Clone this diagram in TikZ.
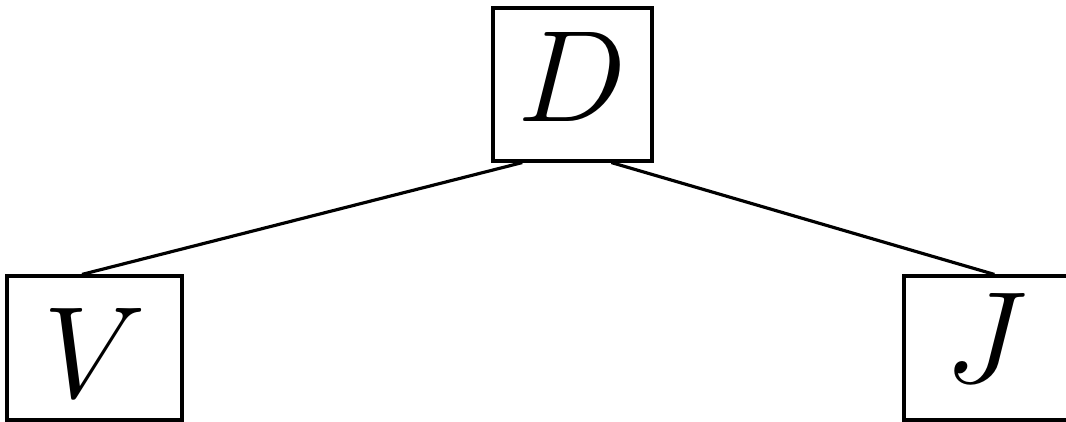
\documentclass[tikz,border=0pt]{standalone}
\usepackage{graphicx}
\usepackage{tikz}
\usetikzlibrary{positioning, calc}

\newcommand{\bigletter}[1]{\scalebox{1.49}{$#1$}}

\begin{document}
\begin{tikzpicture}[
  letterbox/.style={draw, line width=0.9pt, inner sep=0pt, text depth=0pt, font=\Huge},
  link/.style={line width=0.9pt}
]
  % Frame
  \clip (0, 0) rectangle (10.66, 4.22);
  \useasboundingbox (0, 0) rectangle (10.66, 4.22);

  % Nodes
  \node[letterbox, text height=0.75cm, minimum width=1.59cm, minimum height=1.53cm] (D) at (5.725, 3.375) {\bigletter{D}};
  \node[letterbox, text height=1.0cm, minimum width=1.75cm, minimum height=1.44cm] (V) at (0.945, 0.74) {\bigletter{V}};
  \node[letterbox, text height=0.7cm, minimum width=1.64cm, minimum height=1.44cm] (J) at (9.86, 0.74) {\bigletter{J}};

  % Edges
  \draw[link] ($(D.south west)!0.19!(D.south east)$) -- ($(V.north west)!0.43!(V.north east)$);
  \draw[link] ($(D.south west)!0.74!(D.south east)$) -- ($(J.north west)!0.55!(J.north east)$);

\end{tikzpicture}
\end{document}
